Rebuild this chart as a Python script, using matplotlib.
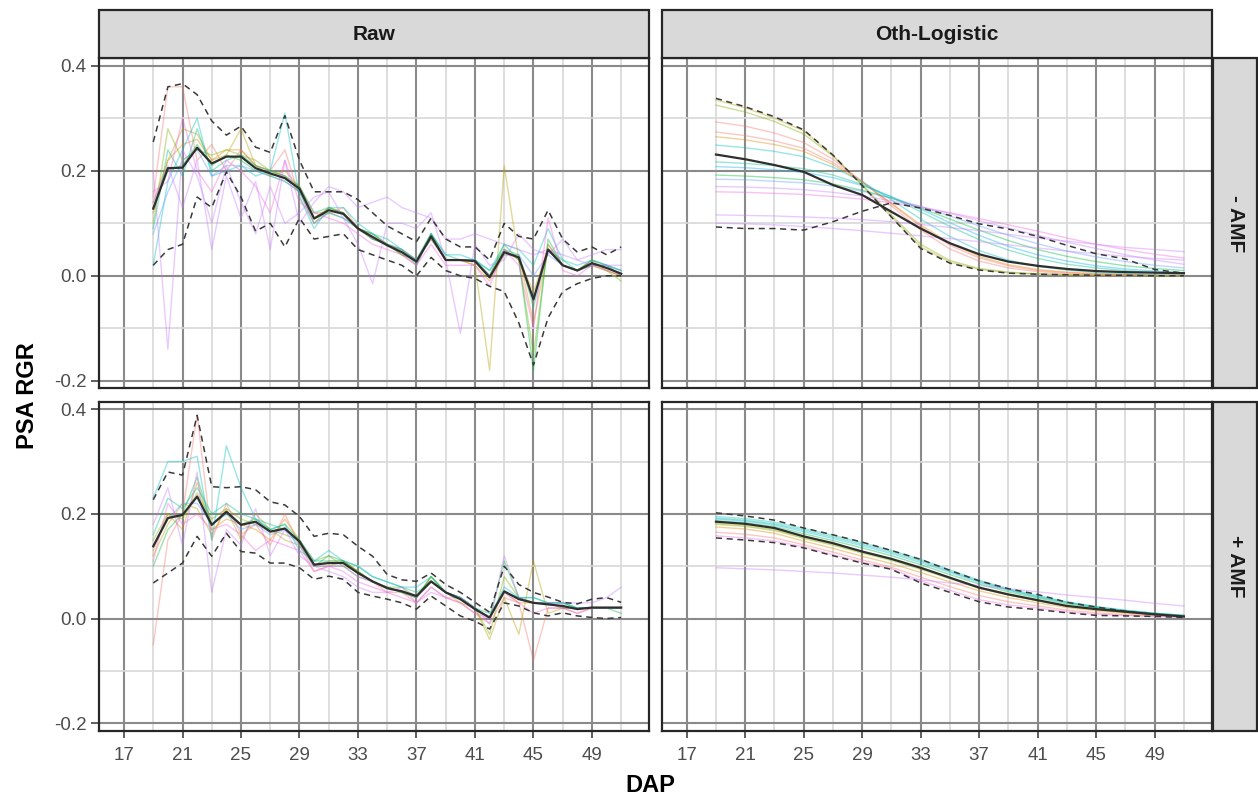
import matplotlib
matplotlib.use("Agg")
import matplotlib.pyplot as plt
from matplotlib.patches import Rectangle
from matplotlib.ticker import FixedLocator

plt.rcParams['font.family'] = ['Liberation Sans', 'DejaVu Sans']

# ---------------- data ----------------
days_raw = [19, 20, 21, 22, 23, 24, 25, 26, 27, 28, 29, 30, 31, 32, 33, 34, 35,
            36, 37, 38, 39, 40, 41, 42, 43, 44, 45, 46, 47, 48, 49, 50, 51]
days_fit = [19, 21, 23, 25, 27, 29, 31, 33, 35, 37, 39, 41, 43, 45, 47, 49, 51]

col_names = ["Raw", "Oth-Logistic"]
row_names = ["- AMF", "+ AMF"]
x_major = [17, 21, 25, 29, 33, 37, 41, 45, 49]
x_minor = [19, 23, 27, 31, 35, 39, 43, 47, 51]
y_major = [-0.2, 0.0, 0.2, 0.4]
y_minor = [-0.1, 0.1, 0.3]
y_ticklabels = ["-0.2", "0.0", "0.2", "0.4"]

# --- Raw, -AMF ---
raw_noamf_mean = [0.128, 0.205, 0.206, 0.244, 0.214, 0.227, 0.227, 0.205, 0.195, 0.186, 0.166, 0.109, 0.125, 0.118, 0.090, 0.074, 0.058,
                  0.045, 0.027, 0.075, 0.030, 0.030, 0.028, -0.003, 0.045, 0.035, -0.045, 0.050, 0.020, 0.010, 0.024, 0.015, 0.004]
raw_noamf_upper = [0.255, 0.360, 0.366, 0.345, 0.295, 0.268, 0.285, 0.245, 0.235, 0.305, 0.220, 0.160, 0.160, 0.160, 0.145, 0.120, 0.095,
                   0.080, 0.065, 0.110, 0.070, 0.055, 0.055, 0.030, 0.100, 0.075, 0.070, 0.125, 0.070, 0.045, 0.055, 0.040, 0.055]
raw_noamf_lower = [0.020, 0.050, 0.060, 0.150, 0.130, 0.198, 0.150, 0.085, 0.100, 0.055, 0.110, 0.070, 0.075, 0.080, 0.050, 0.040, 0.030,
                   0.020, 0.000, 0.035, 0.010, 0.000, -0.005, -0.020, -0.030, -0.090, -0.170, -0.080, -0.030, -0.015, -0.005, 0.000, 0.000]
raw_noamf_lines = [
    [0.15, 0.36, 0.36, 0.22, 0.25, 0.20, 0.24, 0.21, 0.20, 0.24, 0.15, 0.10, 0.12, 0.13, 0.09, 0.08, 0.06, 0.04, 0.02, 0.08, 0.03, 0.03, 0.03, 0.00, 0.05, 0.03, -0.05, 0.06, 0.02, 0.01, 0.03, 0.02, 0.00],
    [0.14, 0.22, 0.25, 0.26, 0.22, 0.24, 0.24, 0.21, 0.20, 0.19, 0.17, 0.11, 0.13, 0.12, 0.09, 0.07, 0.06, 0.05, 0.03, 0.07, 0.03, 0.03, 0.02, -0.01, 0.04, 0.04, -0.09, 0.05, 0.02, 0.01, 0.02, 0.01, 0.00],
    [0.12, 0.22, 0.28, 0.27, 0.22, 0.23, 0.28, 0.21, 0.19, 0.20, 0.17, 0.12, 0.12, 0.12, 0.09, 0.07, 0.06, 0.05, 0.03, 0.08, 0.03, 0.03, 0.02, -0.18, 0.21, 0.03, -0.03, 0.05, 0.02, 0.01, 0.02, 0.01, 0.00],
    [0.10, 0.28, 0.22, 0.24, 0.23, 0.24, 0.23, 0.22, 0.20, 0.19, 0.16, 0.10, 0.13, 0.12, 0.09, 0.08, 0.06, 0.04, 0.03, 0.07, 0.03, 0.03, 0.03, 0.00, 0.05, 0.03, -0.15, 0.06, 0.02, 0.01, 0.03, 0.01, -0.01],
    [0.13, 0.20, 0.21, 0.25, 0.21, 0.23, 0.22, 0.20, 0.19, 0.18, 0.16, 0.11, 0.12, 0.11, 0.09, 0.07, 0.06, 0.04, 0.03, 0.08, 0.03, 0.03, 0.03, 0.00, 0.06, 0.03, -0.18, 0.07, 0.02, 0.01, 0.02, 0.02, 0.01],
    [0.09, 0.24, 0.19, 0.28, 0.20, 0.22, 0.23, 0.21, 0.20, 0.19, 0.17, 0.12, 0.13, 0.12, 0.09, 0.08, 0.06, 0.05, 0.02, 0.08, 0.04, 0.03, 0.03, 0.01, 0.05, 0.04, -0.06, 0.05, 0.03, 0.01, 0.03, 0.02, 0.00],
    [0.02, 0.18, 0.24, 0.30, 0.19, 0.20, 0.21, 0.19, 0.20, 0.31, 0.15, 0.09, 0.13, 0.13, 0.10, 0.08, 0.07, 0.05, 0.03, 0.08, 0.04, 0.04, 0.03, 0.01, 0.06, 0.05, 0.02, 0.09, 0.03, 0.02, 0.03, 0.02, 0.01],
    [0.08, 0.16, 0.22, 0.24, 0.19, 0.21, 0.21, 0.20, 0.19, 0.18, 0.16, 0.10, 0.12, 0.11, 0.09, 0.07, 0.06, 0.05, 0.03, 0.07, 0.03, 0.03, 0.03, 0.00, 0.04, 0.04, 0.00, 0.04, 0.02, 0.01, 0.02, 0.02, 0.01],
    [0.20, -0.14, 0.24, 0.19, 0.10, 0.21, 0.14, 0.08, 0.17, 0.10, 0.12, 0.15, 0.16, 0.11, 0.06, -0.015, 0.10, 0.10, 0.09, 0.12, 0.03, -0.11, 0.06, 0.02, 0.03, 0.08, 0.05, 0.04, 0.07, 0.03, 0.02, 0.02, 0.02],
    [0.14, 0.21, 0.13, 0.22, 0.05, 0.19, 0.11, 0.18, 0.05, 0.22, 0.10, 0.14, 0.17, 0.16, 0.13, 0.14, 0.15, 0.13, 0.12, 0.11, 0.07, 0.07, 0.08, 0.07, 0.06, 0.05, 0.04, 0.05, 0.04, 0.03, 0.04, 0.05, 0.05],
    [0.16, 0.18, 0.30, 0.20, 0.16, 0.22, 0.20, 0.17, 0.12, 0.22, 0.14, 0.12, 0.11, 0.10, 0.08, 0.06, 0.05, 0.04, 0.02, 0.06, 0.02, 0.02, 0.02, -0.02, 0.05, 0.02, -0.10, 0.11, 0.01, 0.00, 0.02, 0.01, 0.00],
]
raw_noamf_colors = ["#F8766D", "#DE8C00", "#B79F00", "#7CAE00", "#00BA38", "#00C08B",
                    "#00BFC4", "#619CFF", "#C77CFF", "#C77CFF", "#F564E3"]

# --- Raw, +AMF ---
raw_amf_mean = [0.138, 0.192, 0.198, 0.233, 0.179, 0.204, 0.179, 0.185, 0.166, 0.172, 0.147, 0.103, 0.106, 0.106, 0.087, 0.071, 0.058,
                0.052, 0.043, 0.071, 0.050, 0.037, 0.018, 0.002, 0.052, 0.037, 0.030, 0.027, 0.024, 0.018, 0.021, 0.021, 0.021]
raw_amf_upper = [0.227, 0.280, 0.274, 0.388, 0.252, 0.250, 0.252, 0.246, 0.223, 0.217, 0.195, 0.157, 0.163, 0.160, 0.138, 0.119, 0.084,
                 0.074, 0.071, 0.087, 0.065, 0.050, 0.031, 0.012, 0.100, 0.065, 0.050, 0.041, 0.031, 0.028, 0.037, 0.040, 0.031]
raw_amf_lower = [0.068, 0.087, 0.106, 0.157, 0.119, 0.163, 0.128, 0.125, 0.106, 0.106, 0.097, 0.075, 0.081, 0.075, 0.050, 0.043, 0.037,
                 0.030, 0.018, 0.043, 0.024, 0.005, -0.005, -0.020, 0.030, 0.024, 0.011, 0.005, 0.011, 0.005, 0.002, 0.000, 0.002]
raw_amf_lines = [
    [-0.05, 0.15, 0.20, 0.39, 0.15, 0.22, 0.16, 0.18, 0.14, 0.20, 0.14, 0.09, 0.10, 0.10, 0.08, 0.07, 0.05, 0.05, 0.03, 0.06, 0.04, 0.03, 0.01, -0.01, 0.04, 0.03, -0.08, 0.02, 0.02, 0.01, 0.02, 0.02, 0.02],
    [0.13, 0.20, 0.17, 0.26, 0.17, 0.19, 0.18, 0.17, 0.15, 0.19, 0.15, 0.10, 0.10, 0.11, 0.09, 0.07, 0.06, 0.05, 0.04, 0.07, 0.05, 0.04, 0.02, 0.00, 0.05, 0.03, 0.03, 0.03, 0.02, 0.02, 0.02, 0.02, 0.02],
    [0.12, 0.18, 0.22, 0.21, 0.16, 0.21, 0.15, 0.20, 0.17, 0.15, 0.14, 0.10, 0.11, 0.11, 0.09, 0.07, 0.06, 0.05, 0.04, 0.08, 0.05, 0.03, 0.02, -0.04, 0.04, -0.03, 0.11, 0.01, 0.02, 0.02, 0.02, 0.02, 0.02],
    [0.15, 0.20, 0.19, 0.24, 0.19, 0.21, 0.19, 0.18, 0.17, 0.16, 0.15, 0.11, 0.12, 0.10, 0.09, 0.07, 0.06, 0.06, 0.04, 0.08, 0.05, 0.04, 0.02, -0.03, 0.08, 0.04, 0.03, 0.03, 0.02, 0.02, 0.02, 0.02, 0.02],
    [0.10, 0.17, 0.20, 0.27, 0.18, 0.20, 0.18, 0.19, 0.17, 0.18, 0.15, 0.10, 0.12, 0.11, 0.09, 0.07, 0.06, 0.05, 0.04, 0.08, 0.05, 0.04, 0.02, 0.00, 0.11, 0.04, 0.03, 0.03, 0.03, 0.02, 0.02, 0.02, 0.01],
    [0.16, 0.23, 0.21, 0.25, 0.20, 0.22, 0.20, 0.19, 0.18, 0.17, 0.15, 0.11, 0.11, 0.11, 0.10, 0.08, 0.07, 0.06, 0.05, 0.07, 0.05, 0.04, 0.02, 0.01, 0.05, 0.04, 0.04, 0.03, 0.03, 0.02, 0.02, 0.02, 0.02],
    [0.23, 0.30, 0.30, 0.31, 0.15, 0.33, 0.25, 0.19, 0.17, 0.18, 0.13, 0.11, 0.13, 0.11, 0.10, 0.08, 0.07, 0.06, 0.06, 0.08, 0.05, 0.04, 0.02, 0.00, 0.06, 0.04, 0.04, 0.03, 0.03, 0.02, 0.02, 0.02, 0.02],
    [0.14, 0.19, 0.22, 0.22, 0.18, 0.20, 0.17, 0.18, 0.16, 0.17, 0.14, 0.10, 0.10, 0.10, 0.08, 0.07, 0.06, 0.05, 0.04, 0.07, 0.05, 0.04, 0.02, 0.00, 0.05, 0.04, 0.03, 0.03, 0.02, 0.02, 0.02, 0.02, 0.02],
    [0.18, 0.25, 0.14, 0.28, 0.05, 0.17, 0.14, 0.21, 0.12, 0.17, 0.12, 0.10, 0.09, 0.08, 0.06, 0.05, 0.05, 0.06, 0.03, 0.06, 0.04, 0.04, 0.02, -0.01, 0.12, 0.04, 0.03, 0.03, 0.03, 0.03, 0.03, 0.04, 0.06],
    [0.11, 0.22, 0.18, 0.20, 0.17, 0.18, 0.16, 0.13, 0.15, 0.14, 0.13, 0.09, 0.10, 0.09, 0.07, 0.06, 0.05, 0.04, 0.03, 0.05, 0.04, 0.03, 0.01, 0.00, 0.05, 0.03, 0.01, 0.02, 0.02, 0.01, 0.02, 0.02, 0.02],
]
raw_amf_colors = ["#F8766D", "#DE8C00", "#B79F00", "#7CAE00", "#00BA38", "#00C08B",
                  "#00BFC4", "#619CFF", "#C77CFF", "#F564E3"]

# --- Logistic, -AMF ---
fit_noamf_mean = [0.231, 0.222, 0.211, 0.198, 0.173, 0.154, 0.122, 0.090, 0.062, 0.041, 0.027, 0.019, 0.013, 0.009, 0.007, 0.006, 0.005]
fit_noamf_upper = [0.338, 0.322, 0.303, 0.278, 0.230, 0.172, 0.112, 0.052, 0.024, 0.011, 0.005, 0.003, 0.002, 0.001, 0.001, 0.000, 0.000]
fit_noamf_lower = [0.093, 0.090, 0.090, 0.087, 0.103, 0.123, 0.139, 0.129, 0.115, 0.099, 0.089, 0.075, 0.058, 0.042, 0.032, 0.012, 0.005]
fit_noamf_lines = [
    [0.335, 0.320, 0.300, 0.276, 0.230, 0.172, 0.112, 0.055, 0.026, 0.012, 0.006, 0.003, 0.002, 0.001, 0.001, 0.000, 0.000],
    [0.325, 0.312, 0.294, 0.270, 0.228, 0.173, 0.116, 0.060, 0.029, 0.014, 0.007, 0.004, 0.002, 0.001, 0.001, 0.000, 0.000],
    [0.293, 0.285, 0.272, 0.254, 0.222, 0.180, 0.133, 0.087, 0.051, 0.028, 0.015, 0.008, 0.004, 0.002, 0.001, 0.001, 0.000],
    [0.274, 0.267, 0.257, 0.243, 0.216, 0.180, 0.137, 0.094, 0.058, 0.034, 0.019, 0.010, 0.006, 0.003, 0.002, 0.001, 0.001],
    [0.265, 0.259, 0.250, 0.237, 0.212, 0.178, 0.138, 0.097, 0.062, 0.037, 0.021, 0.012, 0.007, 0.004, 0.002, 0.001, 0.001],
    [0.249, 0.244, 0.237, 0.227, 0.207, 0.179, 0.145, 0.108, 0.075, 0.048, 0.030, 0.018, 0.011, 0.006, 0.004, 0.002, 0.001],
    [0.217, 0.214, 0.210, 0.204, 0.192, 0.174, 0.150, 0.122, 0.094, 0.069, 0.049, 0.033, 0.022, 0.015, 0.010, 0.006, 0.004],
    [0.208, 0.206, 0.202, 0.197, 0.187, 0.172, 0.151, 0.127, 0.101, 0.077, 0.056, 0.040, 0.028, 0.019, 0.013, 0.009, 0.006],
    [0.192, 0.190, 0.187, 0.183, 0.175, 0.163, 0.148, 0.129, 0.108, 0.087, 0.067, 0.050, 0.037, 0.027, 0.019, 0.014, 0.010],
    [0.184, 0.183, 0.180, 0.177, 0.171, 0.161, 0.148, 0.132, 0.114, 0.095, 0.077, 0.061, 0.047, 0.036, 0.027, 0.020, 0.015],
    [0.170, 0.169, 0.167, 0.164, 0.159, 0.152, 0.143, 0.132, 0.119, 0.105, 0.091, 0.077, 0.064, 0.052, 0.040, 0.030, 0.022],
    [0.160, 0.159, 0.157, 0.155, 0.151, 0.146, 0.139, 0.130, 0.120, 0.109, 0.097, 0.085, 0.072, 0.060, 0.050, 0.041, 0.034],
    [0.116, 0.115, 0.114, 0.112, 0.110, 0.107, 0.103, 0.098, 0.092, 0.086, 0.079, 0.072, 0.066, 0.060, 0.054, 0.050, 0.046],
    [0.100, 0.099, 0.097, 0.094, 0.090, 0.086, 0.081, 0.076, 0.071, 0.065, 0.059, 0.053, 0.047, 0.042, 0.037, 0.033, 0.030],
]
fit_noamf_colors = ["#B79F00", "#7CAE00", "#F8766D", "#F8766D", "#DE8C00", "#00BFC4", "#00C08B",
                    "#00B4F0", "#00BA38", "#619CFF", "#C77CFF", "#F564E3", "#C77CFF", "#C77CFF"]

# --- Logistic, +AMF ---
fit_amf_mean = [0.185, 0.181, 0.173, 0.157, 0.144, 0.128, 0.114, 0.097, 0.078, 0.059, 0.046, 0.035, 0.024, 0.018, 0.013, 0.008, 0.004]
fit_amf_upper = [0.202, 0.196, 0.188, 0.173, 0.160, 0.146, 0.130, 0.113, 0.092, 0.072, 0.057, 0.046, 0.031, 0.022, 0.014, 0.008, 0.004]
fit_amf_lower = [0.154, 0.150, 0.145, 0.135, 0.120, 0.106, 0.094, 0.068, 0.050, 0.032, 0.022, 0.017, 0.011, 0.006, 0.005, 0.004, 0.002]
fit_amf_lines = [
    [0.195, 0.191, 0.184, 0.172, 0.159, 0.145, 0.130, 0.113, 0.093, 0.073, 0.057, 0.044, 0.032, 0.023, 0.016, 0.010, 0.006],
    [0.192, 0.188, 0.181, 0.169, 0.156, 0.142, 0.127, 0.110, 0.090, 0.071, 0.055, 0.042, 0.031, 0.022, 0.015, 0.010, 0.006],
    [0.190, 0.186, 0.179, 0.166, 0.153, 0.139, 0.124, 0.107, 0.088, 0.069, 0.054, 0.041, 0.030, 0.021, 0.015, 0.010, 0.006],
    [0.187, 0.183, 0.176, 0.162, 0.149, 0.135, 0.120, 0.103, 0.084, 0.066, 0.051, 0.039, 0.028, 0.020, 0.014, 0.009, 0.005],
    [0.182, 0.178, 0.170, 0.155, 0.142, 0.127, 0.113, 0.096, 0.078, 0.060, 0.047, 0.035, 0.025, 0.018, 0.012, 0.008, 0.004],
    [0.180, 0.176, 0.168, 0.153, 0.140, 0.125, 0.111, 0.094, 0.076, 0.058, 0.045, 0.034, 0.024, 0.017, 0.012, 0.008, 0.004],
    [0.175, 0.171, 0.163, 0.148, 0.134, 0.119, 0.105, 0.088, 0.070, 0.053, 0.040, 0.030, 0.021, 0.015, 0.010, 0.006, 0.003],
    [0.165, 0.161, 0.154, 0.141, 0.127, 0.112, 0.098, 0.079, 0.061, 0.044, 0.032, 0.024, 0.016, 0.011, 0.007, 0.005, 0.003],
    [0.158, 0.154, 0.148, 0.137, 0.122, 0.108, 0.095, 0.072, 0.054, 0.036, 0.026, 0.020, 0.013, 0.008, 0.006, 0.004, 0.002],
    [0.097, 0.095, 0.093, 0.090, 0.087, 0.083, 0.079, 0.074, 0.068, 0.063, 0.057, 0.051, 0.045, 0.040, 0.035, 0.029, 0.024],
]
fit_amf_colors = ["#00BFC4", "#00C08B", "#00B4F0", "#00BA38", "#B79F00", "#7CAE00",
                  "#DE8C00", "#F8766D", "#F564E3", "#C77CFF"]

# ---------------- layout ----------------
W, H = 1258, 799
fig = plt.figure(figsize=(W / 100, H / 100), dpi=100)
fig.patch.set_facecolor("white")


def fbox(x0, y0, x1, y1):
    return [x0 / W, 1 - y1 / H, (x1 - x0) / W, (y1 - y0) / H]


cols_px = [(99, 649), (661.7, 1211.7)]
rows_px = [(58.3, 388.3), (401.7, 730.7)]

panels = {
    (0, 0): (days_raw, raw_noamf_lines, raw_noamf_colors, raw_noamf_mean, raw_noamf_upper, raw_noamf_lower),
    (0, 1): (days_fit, fit_noamf_lines, fit_noamf_colors, fit_noamf_mean, fit_noamf_upper, fit_noamf_lower),
    (1, 0): (days_raw, raw_amf_lines, raw_amf_colors, raw_amf_mean, raw_amf_upper, raw_amf_lower),
    (1, 1): (days_fit, fit_amf_lines, fit_amf_colors, fit_amf_mean, fit_amf_upper, fit_amf_lower),
}

dark = "#333333"
for (r, c), (xs, lines, cols, mean, up, lo) in panels.items():
    x0, x1 = cols_px[c]
    y0, y1 = rows_px[r]
    ax = fig.add_axes(fbox(x0, y0, x1, y1))
    ax.set_xlim(15.29, 52.9)
    ax.set_ylim(-0.2143, 0.4143)
    ax.xaxis.set_major_locator(FixedLocator(x_major))
    ax.xaxis.set_minor_locator(FixedLocator(x_minor))
    ax.yaxis.set_major_locator(FixedLocator(y_major))
    ax.yaxis.set_minor_locator(FixedLocator(y_minor))
    ax.grid(which="major", color="#8a8a8a", lw=1.5)
    ax.grid(which="minor", color="#d8d8d8", lw=1.2)
    ax.set_axisbelow(True)
    for s in ax.spines.values():
        s.set_color("#262626")
        s.set_linewidth(1.6)
    ax.tick_params(which="minor", length=0)
    ax.tick_params(which="major", color=dark, width=1.1, labelcolor="#4D4D4D", labelsize=13.5)
    ax.tick_params(axis="x", length=5, pad=7)
    ax.tick_params(axis="y", length=6, pad=3)
    if r == 1:
        ax.set_xticklabels([str(v) for v in x_major])
    else:
        ax.tick_params(axis="x", length=0, labelbottom=False)
    if c == 0:
        ax.set_yticklabels(y_ticklabels)
    else:
        ax.tick_params(axis="y", length=0, labelleft=False)

    for ys, colr in zip(lines, cols):
        ax.plot(xs, ys, color=colr, lw=1.0, alpha=0.4, zorder=2)
    ax.plot(xs, up, color="#3a3a3a", lw=1.1, ls=(0, (4, 3)), zorder=3)
    ax.plot(xs, lo, color="#3a3a3a", lw=1.1, ls=(0, (4, 3)), zorder=3)
    ax.plot(xs, mean, color="#2f2f2f", lw=1.6, zorder=4)

# strips
strip_face = "#D9D9D9"
for c, name in enumerate(col_names):
    x0, x1 = cols_px[c]
    fig.patches.append(Rectangle((x0 / W, 1 - 58.3 / H), (x1 - x0) / W, (58.3 - 10) / H,
                                 transform=fig.transFigure, facecolor=strip_face,
                                 edgecolor="#262626", lw=1.6))
    fig.text((x0 + x1) / 2 / W, 1 - 35 / H, name, ha="center", va="center",
             fontsize=15, fontweight="bold", color="#1A1A1A")
for r, name in enumerate(row_names):
    y0, y1 = rows_px[r]
    fig.patches.append(Rectangle((1213 / W, 1 - y1 / H), (1257 - 1213) / W, (y1 - y0) / H,
                                 transform=fig.transFigure, facecolor=strip_face,
                                 edgecolor="#262626", lw=1.6))
    fig.text(1235 / W, 1 - (y0 + y1) / 2 / H, name, ha="center", va="center",
             rotation=-90, fontsize=15, fontweight="bold", color="#1A1A1A")

# axis titles
fig.text(650 / W, 1 - 786 / H, "DAP", ha="center", va="center",
         fontsize=17, fontweight="bold", color="black")
fig.text(27 / W, 1 - 396 / H, "PSA RGR", ha="center", va="center", rotation=90,
         fontsize=17, fontweight="bold", color="black")

fig.savefig("out.png", dpi=100)
